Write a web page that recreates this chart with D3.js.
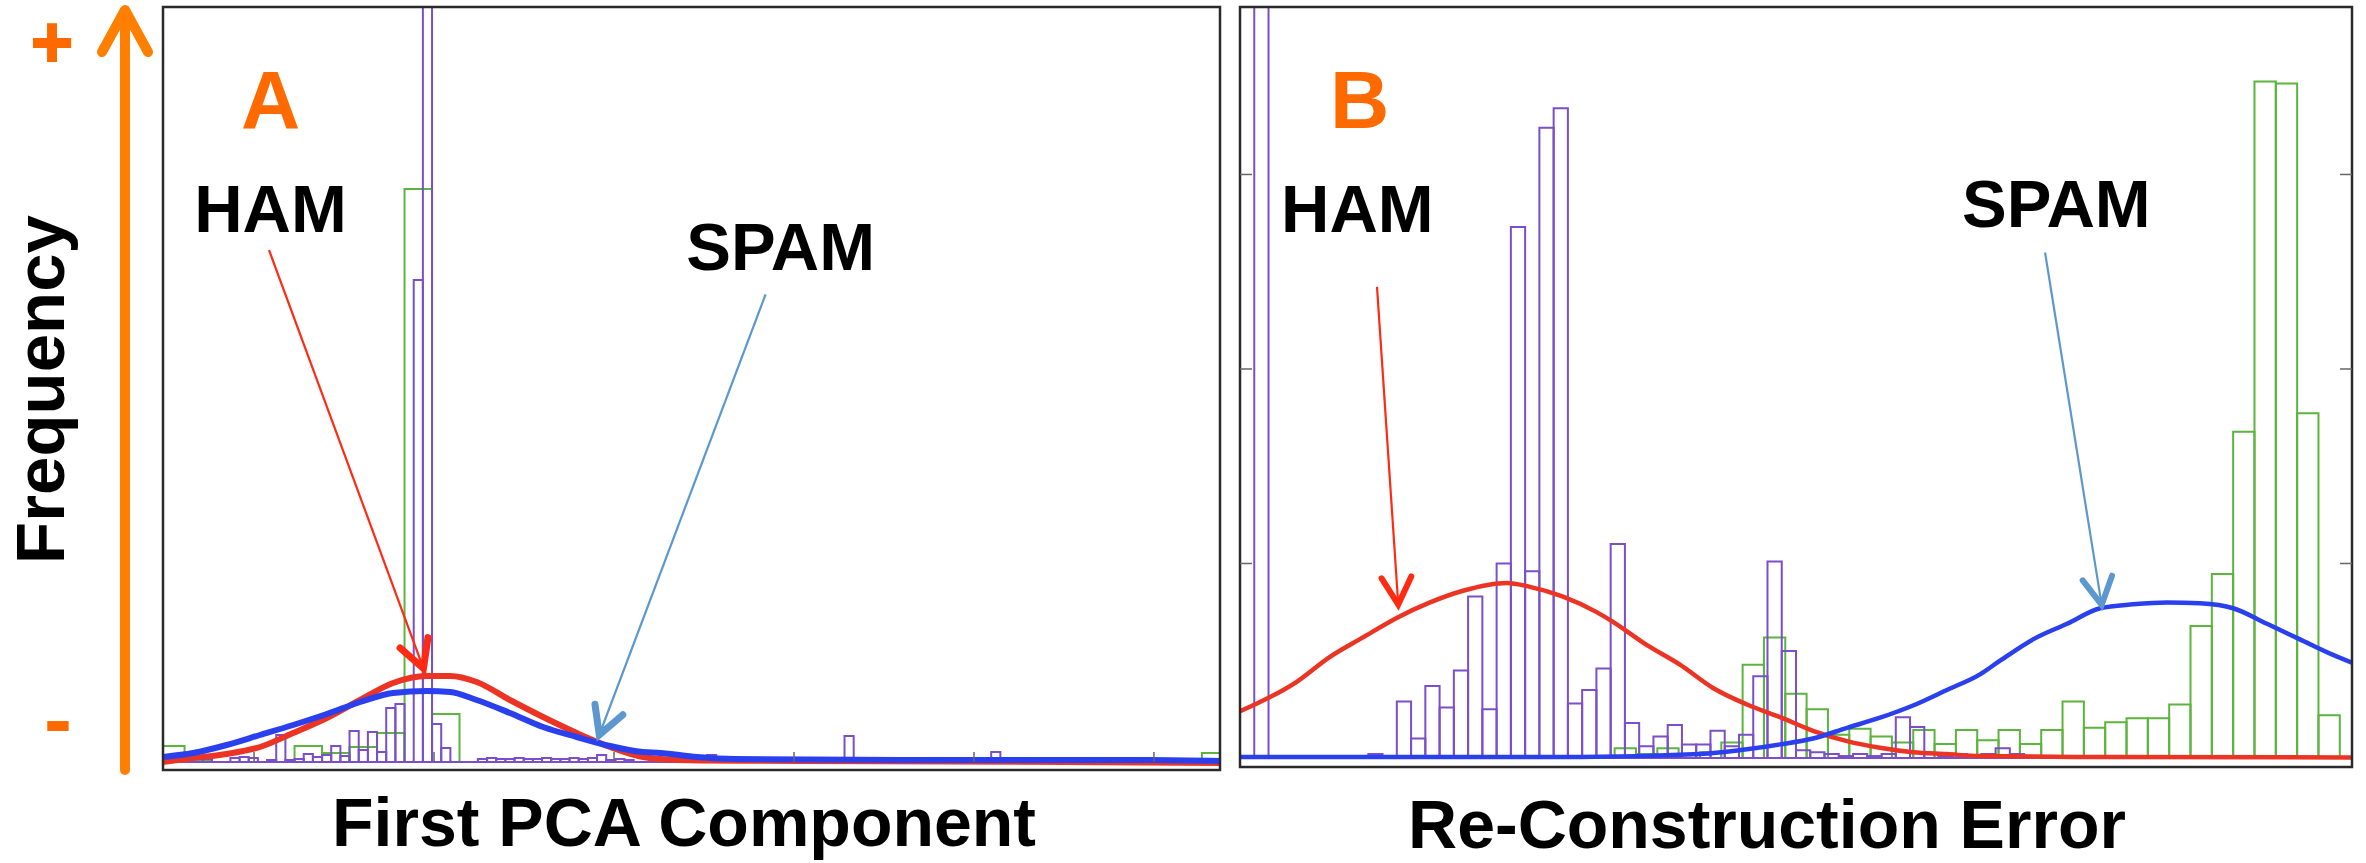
<!DOCTYPE html>
<meta charset="utf-8">
<style>
body { margin: 0; background: #fff; }
text { font-family: "Liberation Sans", Arial, sans-serif; font-weight: bold; }
.frame { fill: none; stroke: #2a2a2a; stroke-width: 2.5px; }
.tick { stroke: #666; stroke-width: 1.5px; }
.ham-bar { fill: none; stroke: #7a4fc9; stroke-width: 2px; }
.spam-bar { fill: none; stroke: #5cb43e; stroke-width: 2px; }
.fit { fill: none; stroke-linejoin: round; stroke-linecap: round; }
</style>
<svg width="2366" height="863"></svg>
<script src="https://d3js.org/d3.v7.min.js"></script>
<script>

// ---------- Panel A : first PCA component ----------
var pcaTicks = [-1, 0, 1, 2, 3, 4];
var binStartA = -1.539;          // left edge of first bin
var hamBinWidthA = 0.05093;
var spamBinWidthA = 0.15278;

var hamCountsA = [
  0, 0, 0.03, 0, 0, 0.03, 0, 0, 0.04, 0.05, 0.04, 0, 0.02, 0.27, 0.02, 0.03,
  0.08, 0.05, 0.07, 0.16, 0.06, 0.31, 0.12, 0.30, 0.10, 0.54, 0.58,
  0, 4.82, 9.5, 0.38, 0.14, 0, 0, 0,
  0.03, 0.04, 0.03, 0.03, 0.04, 0.03, 0.03, 0.04, 0.03, 0.03, 0.04, 0.03,
  0.04, 0.07, 0.02, 0.03, 0.02,
  0, 0, 0, 0, 0, 0, 0, 0,
  0.07,
  0, 0, 0, 0, 0, 0, 0, 0, 0, 0, 0, 0, 0, 0,
  0.26,
  0, 0, 0, 0, 0, 0, 0, 0, 0, 0, 0, 0, 0, 0, 0,
  0.10,
  0, 0, 0, 0, 0, 0, 0, 0, 0, 0, 0, 0, 0, 0, 0, 0, 0, 0, 0, 0, 0, 0, 0, 0
];

var spamCountsA = [
  0.16, 0.02, 0, 0, 0, 0.16, 0.09, 0.15, 0.29, 5.73, 0.48,
  0, 0, 0, 0, 0, 0, 0, 0, 0, 0, 0, 0, 0, 0, 0, 0, 0, 0, 0, 0, 0, 0, 0, 0, 0, 0, 0,
  0.09
];

var hamFitA = [
  [-1.51, 0.00], [-1.339, 0.04], [-1.152, 0.08], [-0.967, 0.15], [-0.783, 0.29],
  [-0.596, 0.44], [-0.411, 0.62], [-0.228, 0.79], [-0.041, 0.86], [0.089, 0.86],
  [0.237, 0.80], [0.422, 0.62], [0.606, 0.45], [0.793, 0.29], [0.978, 0.15],
  [1.161, 0.05], [1.256, 0.03], [1.478, 0.015], [2.03, 0.01], [3.5, 0.0], [4.37, -0.01]
];

var spamFitA = [
  [-1.51, 0.05], [-1.339, 0.09], [-1.152, 0.17], [-0.967, 0.27], [-0.783, 0.37],
  [-0.596, 0.48], [-0.411, 0.60], [-0.228, 0.69], [-0.041, 0.71], [0.089, 0.70],
  [0.237, 0.62], [0.422, 0.49], [0.606, 0.35], [0.793, 0.25], [0.978, 0.16],
  [1.161, 0.10], [1.256, 0.09], [1.461, 0.05], [1.667, 0.03], [2.589, 0.02],
  [3.978, 0.02], [4.37, 0.01]
];

// ---------- Panel B : re-construction error ----------
var freqTicksB = [1, 2, 3];
var binStartB = 0;
var hamBinWidthB = 1;
var spamBinStartB = 26.28;
var spamBinWidthB = 1.496;

var hamCountsB = [
  0, 6.0, 0, 0, 0, 0, 0, 0, 0,
  0.02, 0, 0.29, 0.10, 0.37, 0.26, 0.45, 0.83, 0.25, 1.00, 2.73, 0.96, 3.24, 3.34,
  0.28, 0.35, 0.46, 1.10, 0.18, 0.06, 0.11, 0.17, 0.07, 0.07, 0.14, 0.06, 0.12,
  0.42, 1.01, 0.55, 0.04, 0.03, 0.02, 0.01, 0.02, 0.01, 0.02, 0.21, 0.16, 0.02,
  0.01, 0.02, 0.01, 0.02, 0.05, 0.02,
  0, 0, 0, 0, 0, 0, 0, 0, 0, 0, 0, 0, 0, 0, 0, 0, 0, 0, 0, 0, 0, 0, 0
];

var spamCountsB = [
  0.05, 0.02, 0.05, 0.02, 0.03, 0.08, 0.48, 0.62, 0.33, 0.25, 0.12, 0.15, 0.11,
  0.08, 0.144, 0.072, 0.144, 0.091, 0.144, 0.072, 0.144, 0.29, 0.156, 0.184,
  0.204, 0.204, 0.275, 0.678, 0.946, 1.677, 3.478, 3.468, 1.772, 0.22, 0
];

var hamFitB = [
  [0, 0.24], [3.98, 0.392], [6.31, 0.52], [8.63, 0.62], [10.99, 0.72], [13.33, 0.80],
  [15.64, 0.86], [18.71, 0.90], [20.34, 0.88], [22.66, 0.83], [25.02, 0.75],
  [26.16, 0.70], [28.55, 0.58], [30.86, 0.48], [33.18, 0.36], [35.56, 0.275],
  [37.88, 0.21], [40.19, 0.14], [42.58, 0.087], [44.89, 0.053], [47.21, 0.03],
  [49.59, 0.02], [51.91, 0.01], [60.3, 0.005], [78, 0.003]
];

var spamFitB = [
  [0, 0.005], [23.85, 0.005], [32.27, 0.02], [35.56, 0.045], [37.88, 0.07],
  [40.19, 0.10], [42.58, 0.155], [44.89, 0.207], [47.21, 0.27], [49.59, 0.35],
  [51.91, 0.43], [53.31, 0.50], [55.63, 0.61], [58.01, 0.69], [60.33, 0.77],
  [62.64, 0.79], [65.03, 0.80], [67.34, 0.795], [69.66, 0.77], [72.04, 0.69],
  [74.35, 0.61], [76.67, 0.53], [78, 0.49]
];

// annotations, in data units of each panel
var notesA = [
  {text: "A", x: -1.072, y: 6.34, kind: "letter"},
  {text: "HAM", x: -1.333, y: 5.30, kind: "name"},
  {text: "SPAM", x: 1.402, y: 4.92, kind: "name"}
];
var arrowsA = [
  {from: [-0.917, 5.12], to: [-0.059, 0.937], color: "#ff2a12"},
  {from: [1.842, 4.676], to: [0.918, 0.27], color: "#5d97d0"}
];
var notesB = [
  {text: "B", x: 6.31, y: 3.239, kind: "letter"},
  {text: "HAM", x: 2.876, y: 2.704, kind: "name"},
  {text: "SPAM", x: 50.65, y: 2.73, kind: "name"}
];
var arrowsB = [
  {from: [9.61, 2.422], to: [11.10, 0.789], color: "#ff2a12"},
  {from: [56.47, 2.599], to: [60.44, 0.787], color: "#5d97d0"}
];

// ---------- drawing ----------
var svg = d3.select("svg");
svg.append("rect").attr("width", 2366).attr("height", 863).attr("fill", "#fff");

function panel(opt) {
  var g = svg.append("g");
  var x = opt.x, y = opt.y;

  var clipId = "clip-" + opt.id;
  svg.append("clipPath").attr("id", clipId)
    .append("rect")
      .attr("x", opt.box[0]).attr("y", opt.box[1])
      .attr("width", opt.box[2] - opt.box[0]).attr("height", opt.box[3] - opt.box[1]);

  var plot = g.append("g").attr("clip-path", "url(#" + clipId + ")");

  function barPath(start, w) {
    return function(d, i) {
      var x0 = x(start + i * w), x1 = x(start + (i + 1) * w);
      return "M" + x0 + "," + y(0) + "V" + y(d) + "H" + x1 + "V" + y(0) + "Z";
    };
  }

  plot.append("g").selectAll("path")
    .data(opt.spam)
    .enter().append("path")
      .attr("class", "spam-bar")
      .attr("d", barPath(opt.spamStart, opt.spamWidth));

  plot.append("g").selectAll("path")
    .data(opt.ham)
    .enter().append("path")
      .attr("class", "ham-bar")
      .attr("d", barPath(opt.hamStart, opt.hamWidth));

  var line = d3.line()
      .x(function(d) { return x(d[0]); })
      .y(function(d) { return y(d[1]); })
      .curve(d3.curveMonotoneX);

  plot.append("path").datum(opt.hamFit)
      .attr("class", "fit")
      .attr("stroke", "#ec3424")
      .attr("stroke-width", opt.fitWidth)
      .attr("d", line);

  plot.append("path").datum(opt.spamFit)
      .attr("class", "fit")
      .attr("stroke", "#2a40ef")
      .attr("stroke-width", opt.fitWidth)
      .attr("d", line);

  g.append("rect")
      .attr("class", "frame")
      .attr("x", opt.box[0]).attr("y", opt.box[1])
      .attr("width", opt.box[2] - opt.box[0]).attr("height", opt.box[3] - opt.box[1]);

  // annotations
  g.selectAll("text.note")
    .data(opt.notes)
    .enter().append("text")
      .attr("class", "note")
      .attr("x", function(d) { return x(d.x); })
      .attr("y", function(d) { return y(d.y); })
      .attr("font-size", function(d) { return d.kind == "letter" ? 82 : 67; })
      .attr("fill", function(d) { return d.kind == "letter" ? "#ff6a00" : "#000"; })
      .text(function(d) { return d.text; });

  opt.arrows.forEach(function(a) {
    var x1 = x(a.from[0]), y1 = y(a.from[1]), x2 = x(a.to[0]), y2 = y(a.to[1]);
    g.append("line")
        .attr("x1", x1).attr("y1", y1).attr("x2", x2).attr("y2", y2)
        .attr("stroke", a.color).attr("stroke-width", 2.2);
    var back = Math.atan2(y1 - y2, x1 - x2), spread = 0.5, len = 31;
    var p = d3.path();
    p.moveTo(x2 + len * Math.cos(back - spread), y2 + len * Math.sin(back - spread));
    p.lineTo(x2, y2);
    p.lineTo(x2 + len * Math.cos(back + spread), y2 + len * Math.sin(back + spread));
    g.append("path")
        .attr("d", p.toString())
        .attr("fill", "none")
        .attr("stroke", a.color)
        .attr("stroke-width", opt.headWidth)
        .attr("stroke-linecap", "round")
        .attr("stroke-linejoin", "miter");
  });

  return g;
}

// panel A
var xA = d3.scaleLinear().domain([-1.506, 4.367]).range([163, 1220]);
var yA = d3.scaleLinear().domain([0, 7.55]).range([762, 7]);

var gA = panel({
  id: "a", x: xA, y: yA, box: [163, 7, 1220, 770],
  ham: hamCountsA, hamStart: binStartA, hamWidth: hamBinWidthA,
  spam: spamCountsA, spamStart: binStartA, spamWidth: spamBinWidthA,
  hamFit: hamFitA, spamFit: spamFitA, fitWidth: 6, headWidth: 7,
  notes: notesA, arrows: arrowsA
});

gA.selectAll("line.tick")
  .data(pcaTicks)
  .enter().append("line")
    .attr("class", "tick")
    .attr("x1", function(d) { return xA(d); })
    .attr("x2", function(d) { return xA(d); })
    .attr("y1", yA(0))
    .attr("y2", yA(0) - 10);

// panel B
var xB = d3.scaleLinear().domain([0, 78]).range([1240, 2352]);
var yB = d3.scaleLinear().domain([0, 3.861]).range([758, 7]);

var gB = panel({
  id: "b", x: xB, y: yB, box: [1240, 7, 2352, 767],
  ham: hamCountsB, hamStart: binStartB, hamWidth: hamBinWidthB,
  spam: spamCountsB, spamStart: spamBinStartB, spamWidth: spamBinWidthB,
  hamFit: hamFitB, spamFit: spamFitB, fitWidth: 4.5, headWidth: 6,
  notes: notesB, arrows: arrowsB
});

gB.selectAll("line.ltick")
  .data(freqTicksB)
  .enter().append("line")
    .attr("class", "tick")
    .attr("x1", xB(0)).attr("x2", xB(0) + 12)
    .attr("y1", function(d) { return yB(d); })
    .attr("y2", function(d) { return yB(d); });

gB.selectAll("line.rtick")
  .data(freqTicksB)
  .enter().append("line")
    .attr("class", "tick")
    .attr("x1", xB(78)).attr("x2", xB(78) - 12)
    .attr("y1", function(d) { return yB(d); })
    .attr("y2", function(d) { return yB(d); });

// axis titles
svg.append("text")
    .attr("x", 684).attr("y", 846)
    .attr("text-anchor", "middle")
    .attr("font-size", 68)
    .text("First PCA Component");

svg.append("text")
    .attr("x", 1767).attr("y", 848)
    .attr("text-anchor", "middle")
    .attr("font-size", 68)
    .text("Re-Construction Error");

svg.append("text")
    .attr("transform", "translate(64,389.5) rotate(-90)")
    .attr("text-anchor", "middle")
    .attr("font-size", 69)
    .text("Frequency");

// orange frequency arrow with + and -
svg.append("line")
    .attr("x1", 125).attr("y1", 770).attr("x2", 125).attr("y2", 12)
    .attr("stroke", "#ff8000").attr("stroke-width", 10).attr("stroke-linecap", "round");
svg.append("path")
    .attr("d", "M102,52L125,10L148,52")
    .attr("fill", "none").attr("stroke", "#ff8000").attr("stroke-width", 10)
    .attr("stroke-linecap", "round").attr("stroke-linejoin", "round");

svg.append("text")
    .attr("x", 52).attr("y", 67)
    .attr("text-anchor", "middle")
    .attr("font-size", 72)
    .attr("fill", "#ff6a00")
    .attr("stroke", "#ff6a00")
    .attr("stroke-width", 2)
    .text("+");

svg.append("text")
    .attr("x", 58).attr("y", 748)
    .attr("text-anchor", "middle")
    .attr("font-size", 84)
    .attr("fill", "#ff6a00")
    .text("-");

</script>
